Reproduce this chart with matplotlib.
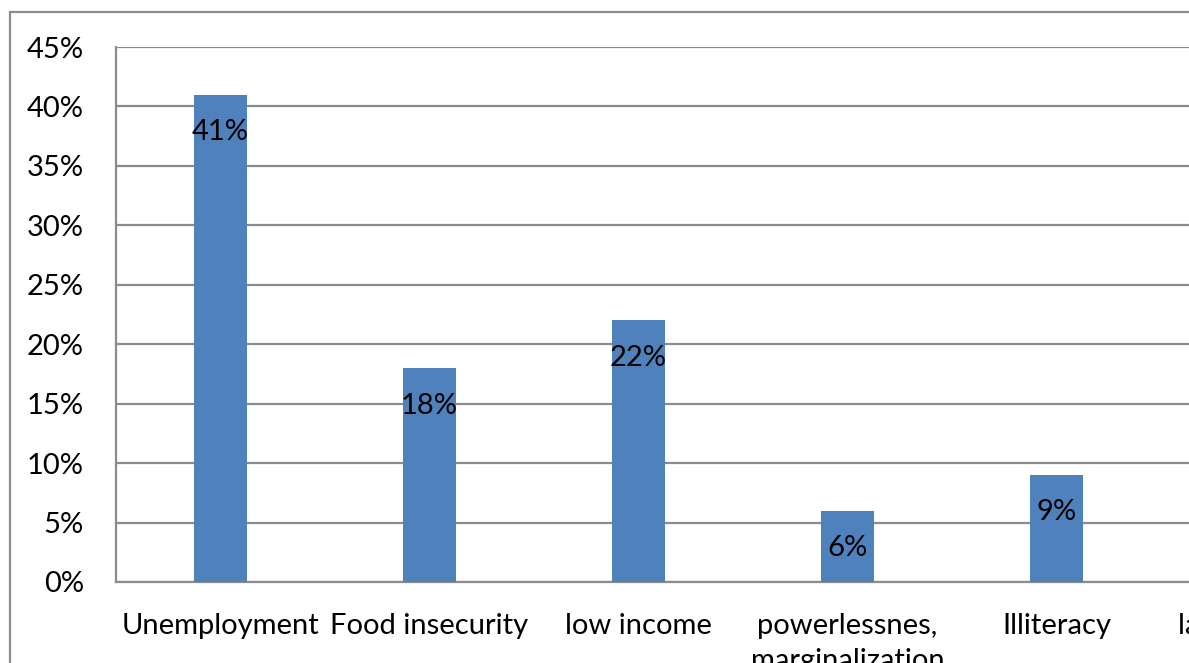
import matplotlib
matplotlib.use("Agg")
import matplotlib.pyplot as plt
from matplotlib.patches import Rectangle
from matplotlib.ticker import PercentFormatter

categories = ["Unemployment", "Food insecurity", "low income",
              "powerlessnes,\nmarginalization", "Illiteracy", "lack of capital"]
values = [0.41, 0.18, 0.22, 0.06, 0.09, 0.04]
value_labels = ["41%", "18%", "22%", "6%", "9%", "4%"]
yticks = [0, 0.05, 0.10, 0.15, 0.20, 0.25, 0.30, 0.35, 0.40, 0.45]

plt.rcParams['font.family'] = ['Lato', 'DejaVu Sans']

W, H = 1189, 663
fig = plt.figure(figsize=(W / 100, H / 100), dpi=100)
fig.patch.set_facecolor('white')

slot = 209
ax = fig.add_axes([116 / W, (H - 582) / H, len(categories) * slot / W, (582 - 47) / H])
x = list(range(len(categories)))
ax.bar(x, values, width=0.25, color='#4F81BD', zorder=3)
for xi, v, lab in zip(x, values, value_labels):
    ax.annotate(lab, (xi, v), xytext=(0, -27), textcoords='offset points',
                ha='center', va='center', fontsize=21, color='black', zorder=4)

ax.set_xlim(-0.5, len(categories) - 0.5)
ax.set_ylim(0, 0.45)
ax.set_yticks(yticks)
ax.yaxis.set_major_formatter(PercentFormatter(1.0, decimals=0))
ax.set_xticks(x)
ax.set_xticklabels(categories, linespacing=1.45)
ax.tick_params(axis='both', length=0, labelsize=21, colors='black')
ax.tick_params(axis='y', pad=23)
ax.tick_params(axis='x', pad=22)
ax.grid(axis='y', color='#8C8C8C', linewidth=1.6, zorder=1)
for s in ['top', 'right']:
    ax.spines[s].set_visible(False)
for s in ['left', 'bottom']:
    ax.spines[s].set_color('#8C8C8C')
    ax.spines[s].set_linewidth(1.6)
ax.set_facecolor('white')

fig.add_artist(Rectangle((10 / W, -0.2), 2, (H - 12) / H + 0.2,
                         transform=fig.transFigure, fill=False,
                         edgecolor='#8C8C8C', linewidth=1.6))

fig.savefig("out.png", dpi=100)
